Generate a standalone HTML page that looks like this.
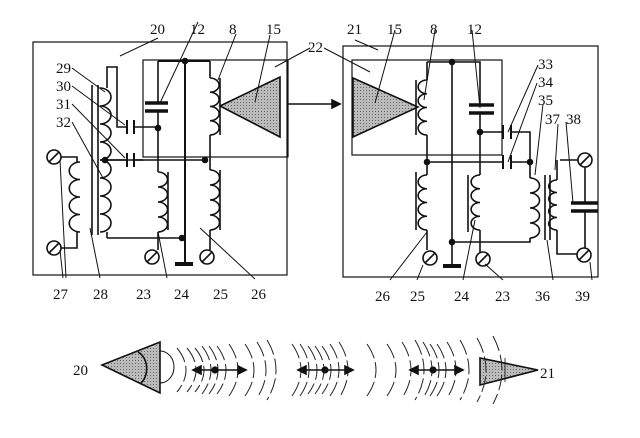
<!DOCTYPE html>
<html><head><meta charset="utf-8"><style>
html,body{margin:0;padding:0;background:#fff}
svg{display:block}
text{font-family:"Liberation Serif",serif;font-size:15px;fill:#111}
</style></head><body>
<svg id="s" width="640" height="438" viewBox="0 0 640 438" xmlns="http://www.w3.org/2000/svg">
<defs>
<pattern id="g" width="3" height="3" patternUnits="userSpaceOnUse"><rect width="3" height="3" fill="#bbb"/><rect width="1" height="1" fill="#666"/></pattern>
</defs>
<g id="d" fill="none" stroke="#111" stroke-width="1.6">
<rect x="33" y="42" width="254" height="233" stroke-width="1.2"/>
<rect x="143" y="60" width="145" height="97" stroke-width="1.2"/>
<polygon points="220,106 280,77 280,137" fill="url(#g)"/>
<line x1="287" y1="104" x2="340" y2="104"/>
<polygon points="340,104 332,100 332,108" fill="#111"/>
<path d="M158,61 H210 M185,61 V264" stroke-width="2"/>
<line x1="175" y1="264" x2="193" y2="264" stroke-width="4"/>
<path d="M158,61 V103 M158,111 V172"/>
<line x1="145" y1="103" x2="168" y2="103" stroke-width="3.5"/><line x1="145" y1="111" x2="168" y2="111" stroke-width="3.5"/>
<path d="M210,61 V78 M210,135 V170 M210,230 V250 M220,78 V135 M220,170 V230"/>
<path d="M105,160 H205"/>
<path d="M158,232 V250 M107,238 H182"/>
<path d="M107,232 V238 M107,88 V67 H117 V127 H127 M134,127 H158 M105,160 H127 M134,160 H143"/>
<path d="M127,120 V134 M134,120 V134 M127,153 V167 M134,153 V167" stroke-width="2"/>
<path d="M168,172 V230"/>
<path d="M92,85 V235 M98,85 V235"/>
<path d="M61,157 H77 V162 M77,232 V248 H61"/>
<circle cx="54" cy="157" r="7"/><line x1="49" y1="162" x2="59" y2="152"/>
<circle cx="54" cy="248" r="7"/><line x1="49" y1="253" x2="59" y2="243"/>
<circle cx="152" cy="257" r="7"/><line x1="147" y1="262" x2="157" y2="252"/>
<circle cx="207" cy="257" r="7"/><line x1="202" y1="262" x2="212" y2="252"/>
<rect x="343" y="46" width="255" height="231" stroke-width="1.2"/>
<rect x="352" y="60" width="150" height="95" stroke-width="1.2"/>
<polygon points="353,78 353,137 418,107" fill="url(#g)"/>
<path d="M427,62 H480 V105 M480,113 V175 M452,62 V266 M427,62 V80 M427,135 V175 M427,230 V250"/>
<line x1="443" y1="266" x2="461" y2="266" stroke-width="4"/>
<line x1="469" y1="105" x2="494" y2="105" stroke-width="3.5"/><line x1="469" y1="113" x2="494" y2="113" stroke-width="3.5"/>
<path d="M416,80 V135 M416,172 V230 M468,175 V232"/>
<path d="M480,132 H503 M511,132 H530 V162 M427,162 H503 M511,162 H530 V178"/>
<path d="M503,125 V139 M511,125 V139 M503,155 V169 M511,155 V169" stroke-width="2"/>
<path d="M480,230 V252 M452,242 H530 V238"/>
<path d="M545,175 V240 M550,175 V240"/>
<path d="M557,160 V180 M557,230 V254 H577 M560,160 H578 M585,167 V203 M585,211 V248"/>
<line x1="571" y1="203" x2="598" y2="203" stroke-width="3.5"/><line x1="571" y1="211" x2="598" y2="211" stroke-width="3.5"/>
<circle cx="585" cy="160" r="7"/><line x1="580" y1="165" x2="590" y2="155"/>
<circle cx="584" cy="255" r="7"/><line x1="579" y1="260" x2="589" y2="250"/>
<circle cx="430" cy="258" r="7"/><line x1="425" y1="263" x2="435" y2="253"/>
<circle cx="483" cy="259" r="7"/><line x1="478" y1="264" x2="488" y2="254"/>
<g stroke-width="1">
<path d="M158,38 L120,56 M198,22 L160,103 M236,34 L218,80 M270,35 L255,102 M310,48 L275,67 M72,68 L105,92 M72,86 L125,125 M72,104 L125,158 M72,122 L103,178 M60,250 L63,278 M60,160 L66,278 M90,228 L100,278 M158,232 L167,278 M200,228 L255,279"/>
<path d="M324,48 L370,72 M355,40 L378,50 M395,30 L375,103 M435,30 L424,100 M472,30 L480,108 M538,65 L508,132 M537,83 L508,162 M543,104 L535,175 M558,124 L555,170 M566,122 L573,203 M427,232 L390,280 M423,265 L417,280 M475,220 L463,280 M485,264 L503,280 M547,240 L553,280 M590,262 L592,280"/>
</g>
<circle cx="205" cy="160" r="2.5" fill="#111"/><circle cx="158" cy="128" r="2.5" fill="#111"/><circle cx="105" cy="160" r="2.5" fill="#111"/><circle cx="182" cy="238" r="2.5" fill="#111"/><circle cx="185" cy="61" r="2.5" fill="#111"/>
<circle cx="452" cy="62" r="2.5" fill="#111"/><circle cx="480" cy="132" r="2.5" fill="#111"/><circle cx="427" cy="162" r="2.5" fill="#111"/><circle cx="530" cy="162" r="2.5" fill="#111"/><circle cx="452" cy="242" r="2.5" fill="#111"/>
<polygon points="102,365 160,342 160,393" fill="url(#g)"/>
<path d="M138,352 A14,18 0 0 1 140,384" />
<path d="M160,351 A14,16 0 0 1 160,383" stroke-width="1"/>
<polygon points="480,358 480,385 538,370" fill="url(#g)"/>
<line x1="505" y1="358" x2="505" y2="382" stroke-width="0.8"/>
</g>
<g id="w" fill="none" stroke="#222" stroke-width="1" stroke-dasharray="16,4"></g>
<g fill="none" stroke="#111" stroke-width="1.6" id="ar"></g>
<text x="150" y="34">20</text><text x="190" y="34">12</text><text x="229" y="34">8</text><text x="266" y="34">15</text><text x="308" y="52">22</text>
<text x="56" y="73">29</text><text x="56" y="91">30</text><text x="56" y="109">31</text><text x="56" y="127">32</text>
<text x="53" y="299">27</text><text x="93" y="299">28</text><text x="136" y="299">23</text><text x="174" y="299">24</text><text x="213" y="299">25</text><text x="251" y="299">26</text>
<text x="347" y="34">21</text><text x="387" y="34">15</text><text x="430" y="34">8</text><text x="467" y="34">12</text>
<text x="538" y="69">33</text><text x="538" y="87">34</text><text x="538" y="105">35</text><text x="545" y="124">37</text><text x="566" y="124">38</text>
<text x="375" y="301">26</text><text x="410" y="301">25</text><text x="454" y="301">24</text><text x="495" y="301">23</text><text x="535" y="301">36</text><text x="575" y="301">39</text>
<text x="73" y="375">20</text><text x="540" y="378">21</text>
</svg>
<script>
var NS="http://www.w3.org/2000/svg",d=document.getElementById('d');
function coil(x,y1,y2,n,dir){var h=(y2-y1)/n,s="M"+x+","+y1;for(var i=0;i<n;i++){s+=" a"+(h/2+2)+","+(h/2)+" 0 1 "+(dir>0?1:0)+" 0,"+h;}var p=document.createElementNS(NS,'path');p.setAttribute('d',s);d.appendChild(p);}
coil(210,78,135,4,1);coil(210,170,230,4,1);coil(158,172,232,4,1);coil(80,162,232,4,-1);coil(100,88,160,4,1);coil(100,160,232,4,1);
coil(427,80,135,4,-1);coil(427,175,230,4,-1);coil(480,175,230,4,-1);coil(530,178,238,4,1);coil(557,180,230,4,-1);
var w=document.getElementById('w');
[[182,22],[192,22],[200,22],[207,24],[214,24],[222,24],[234,26],[250,26],[262,28],[272,30],[297,26],[305,26],[313,24],[320,24],[327,24],[335,26],[344,28],[372,26],[392,26],[407,28],[420,30],[428,28],[435,26],[442,26],[452,28],[465,30],[482,32],[498,34]].forEach(function(t){var x=t[0],r=t[1];var p=document.createElementNS(NS,'path');p.setAttribute('d',"M"+(x-5)+","+(370-r)+" Q"+(x+13)+",370 "+(x-5)+","+(370+r));w.appendChild(p);});
var a=document.getElementById('ar');
[[193,246,215],[298,353,325],[410,463,433]].forEach(function(t){a.innerHTML+='<line x1="'+t[0]+'" y1="370" x2="'+t[1]+'" y2="370"/><polygon points="'+t[0]+',370 '+(t[0]+8)+',366 '+(t[0]+8)+',374" fill="#111"/><polygon points="'+t[1]+',370 '+(t[1]-8)+',366 '+(t[1]-8)+',374" fill="#111"/><circle cx="'+t[2]+'" cy="370" r="2.8" fill="#111"/>';});
</script>
</body></html>
